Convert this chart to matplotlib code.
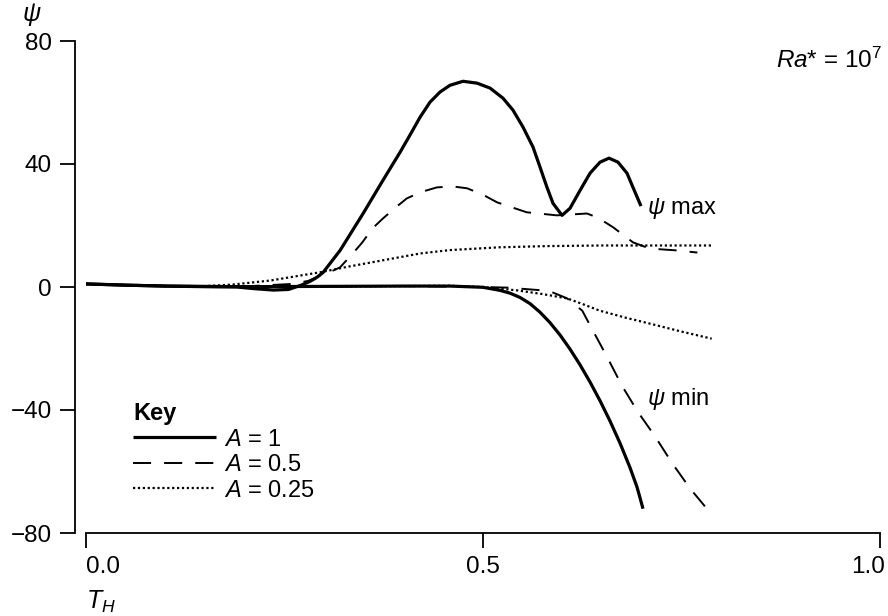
import matplotlib
matplotlib.use("Agg")
import matplotlib.pyplot as plt
from matplotlib.transforms import ScaledTranslation

plt.rcParams['font.family'] = ['Liberation Sans', 'DejaVu Sans']
plt.rcParams['mathtext.fontset'] = 'custom'
plt.rcParams['mathtext.rm'] = 'Liberation Sans'
plt.rcParams['mathtext.it'] = 'Liberation Sans:italic'
plt.rcParams['mathtext.bf'] = 'Liberation Sans:bold'

# ---- data ----
# A = 1, psi max
t_a1_max = [0.00, 0.05, 0.10, 0.15, 0.19, 0.21, 0.236, 0.255, 0.27, 0.282, 0.290, 0.2985,
            0.320, 0.349, 0.374, 0.3955, 0.408, 0.4207, 0.4332, 0.4458, 0.4584, 0.4748,
            0.4924, 0.5088, 0.5252, 0.5378, 0.5504, 0.563, 0.5718, 0.5806, 0.5882, 0.5995,
            0.6096, 0.6222, 0.6348, 0.6474, 0.6587, 0.670, 0.6814, 0.6889, 0.699]
p_a1_max = [1.0, 0.6, 0.3, 0.1, 0.0, -0.5, -1.0, -0.8, 0.5, 1.8, 3.0, 4.7,
            11.9, 23.9, 34.7, 43.8, 49.4, 55.2, 60.1, 63.4, 65.6, 66.9,
            66.3, 64.7, 61.4, 57.5, 52.0, 45.5, 39.0, 32.4, 27.2, 23.3,
            25.6, 31.4, 37.0, 40.6, 41.9, 40.6, 37.0, 32.4, 26.3]
# A = 1, psi min
t_a1_min = [0.00, 0.05, 0.10, 0.20, 0.30, 0.40, 0.4584, 0.500, 0.5214, 0.5340, 0.5466,
            0.5592, 0.5718, 0.5844, 0.5970, 0.6096, 0.6222, 0.6348, 0.6474, 0.6600,
            0.6726, 0.6851, 0.6939, 0.6977, 0.7015]
p_a1_min = [1.0, 0.6, 0.3, 0.1, 0.2, 0.3, 0.3, -0.1, -1.1, -2.0, -3.4,
            -5.4, -8.2, -11.6, -15.6, -20.2, -25.3, -30.9, -37.0, -43.6,
            -50.8, -58.7, -65.0, -68.5, -72.1]
# A = 0.5, psi max
t_a05_max = [0.00, 0.05, 0.10, 0.20, 0.26, 0.28, 0.298, 0.31, 0.320, 0.336, 0.348, 0.361,
             0.374, 0.393, 0.404, 0.421, 0.442, 0.462, 0.480, 0.500, 0.518, 0.555, 0.593,
             0.631, 0.645, 0.664, 0.689, 0.710, 0.744, 0.770]
p_a05_max = [1.0, 0.6, 0.3, 0.2, 1.0, 2.0, 4.0, 5.2, 6.4, 10.9, 14.5, 19.1,
             22.3, 26.5, 28.8, 30.8, 32.4, 32.7, 32.1, 30.0, 27.5, 24.3, 23.3,
             23.9, 22.5, 19.4, 14.5, 12.5, 11.9, 11.2]
# A = 0.5, psi min
t_a05_min = [0.00, 0.05, 0.10, 0.20, 0.30, 0.40, 0.500, 0.530, 0.570, 0.588, 0.606, 0.625,
             0.637, 0.656, 0.675, 0.695, 0.717, 0.738, 0.761, 0.782]
p_a05_min = [1.0, 0.6, 0.3, 0.1, 0.2, 0.3, 0.0, -0.2, -1.0, -1.8, -3.7, -7.7,
             -13.5, -22.6, -32.1, -40.6, -48.7, -57.2, -65.6, -72.1]
# A = 0.25, psi max
t_a025_max = [0.00, 0.05, 0.10, 0.15, 0.185, 0.232, 0.295, 0.332, 0.370, 0.4207, 0.458,
              0.520, 0.580, 0.650, 0.720, 0.790]
p_a025_max = [1.0, 0.6, 0.3, 0.3, 0.8, 2.1, 4.8, 6.7, 8.5, 10.9, 12.0,
              12.9, 13.3, 13.5, 13.5, 13.5]
# A = 0.25, psi min
t_a025_min = [0.00, 0.05, 0.10, 0.20, 0.30, 0.40, 0.458, 0.500, 0.543, 0.575, 0.606,
              0.627, 0.647, 0.680, 0.710, 0.750, 0.788]
p_a025_min = [1.0, 0.6, 0.3, 0.1, 0.2, 0.3, 0.4, 0.0, -1.1, -2.3, -3.7,
              -5.7, -7.7, -10.0, -11.9, -14.5, -16.8]

x_ticks = [0.0, 0.5, 1.0]
x_tick_labels = ['0.0', '0.5', '1.0']
y_ticks = [-80, -40, 0, 40, 80]
legend_labels = ['$A$ = 1', '$A$ = 0.5', '$A$ = 0.25']

# ---- figure ----
W, H = 888, 616
fig = plt.figure(figsize=(W / 100, H / 100), dpi=100)
ax = fig.add_axes([86 / W, (H - 533) / H, 794 / W, 492 / H])

solid = dict(color='black', lw=2.3, ls='-', solid_capstyle='butt', solid_joinstyle='round')
dashed = dict(color='black', lw=1.4, ls=(0, (9.3, 6.7)))
dotted = dict(color='black', lw=1.6, ls=(0, (1, 1.2)))

l1, = ax.plot(t_a1_max, p_a1_max, **solid)
ax.plot(t_a1_min, p_a1_min, **solid)
l2, = ax.plot(t_a05_max, p_a05_max, **dashed)
ax.plot(t_a05_min, p_a05_min, **dashed)
l3, = ax.plot(t_a025_max, p_a025_max, **dotted)
ax.plot(t_a025_min, p_a025_min, **dotted)

ax.set_xlim(0, 1)
ax.set_ylim(-80, 80)
ax.set_xticks(x_ticks)
ax.set_xticklabels(x_tick_labels)
ax.set_yticks(y_ticks)

for s in ['top', 'right']:
    ax.spines[s].set_visible(False)
ax.spines['left'].set_position(('outward', 8))
for s in ['left', 'bottom']:
    ax.spines[s].set_linewidth(1.3)
ax.tick_params(axis='both', direction='out', length=10.5, width=1.3,
               labelsize=17.5, pad=6)

xl = ax.get_xticklabels()
xl[0].set_horizontalalignment('left')
xl[-1].set_horizontalalignment('right')
xl[-1].set_transform(xl[-1].get_transform() + ScaledTranslation(5 / 100, 0, fig.dpi_scale_trans))

# curve annotations
ax.text(0.707, 25.6, r'$\psi$ max', fontsize=17, ha='left', va='center')
ax.text(0.707, -36.3, r'$\psi$ min', fontsize=17, ha='left', va='center')

# axis labels
fig.text(32 / W, 1 - 15 / H, r'$\psi$', fontsize=18, ha='center', va='center')
fig.text(86 / W, 1 - 602 / H, r'$T_H$', fontsize=18, ha='left', va='center')
fig.text(882 / W, 1 - 60 / H, r'$Ra$* = 10$^7$', fontsize=17.5, ha='right', va='center')

leg = ax.legend([l1, l2, l3], legend_labels, title='Key', frameon=False,
                loc='upper left', bbox_to_anchor=(133 / W, 1 - 402 / H),
                bbox_transform=fig.transFigure, fontsize=17,
                title_fontproperties={'weight': 'bold', 'size': 17},
                handlelength=3.5, handletextpad=0.35, labelspacing=0.15,
                borderpad=0, borderaxespad=0)
leg._legend_box.align = 'left'

fig.savefig('out.png', dpi=100)
